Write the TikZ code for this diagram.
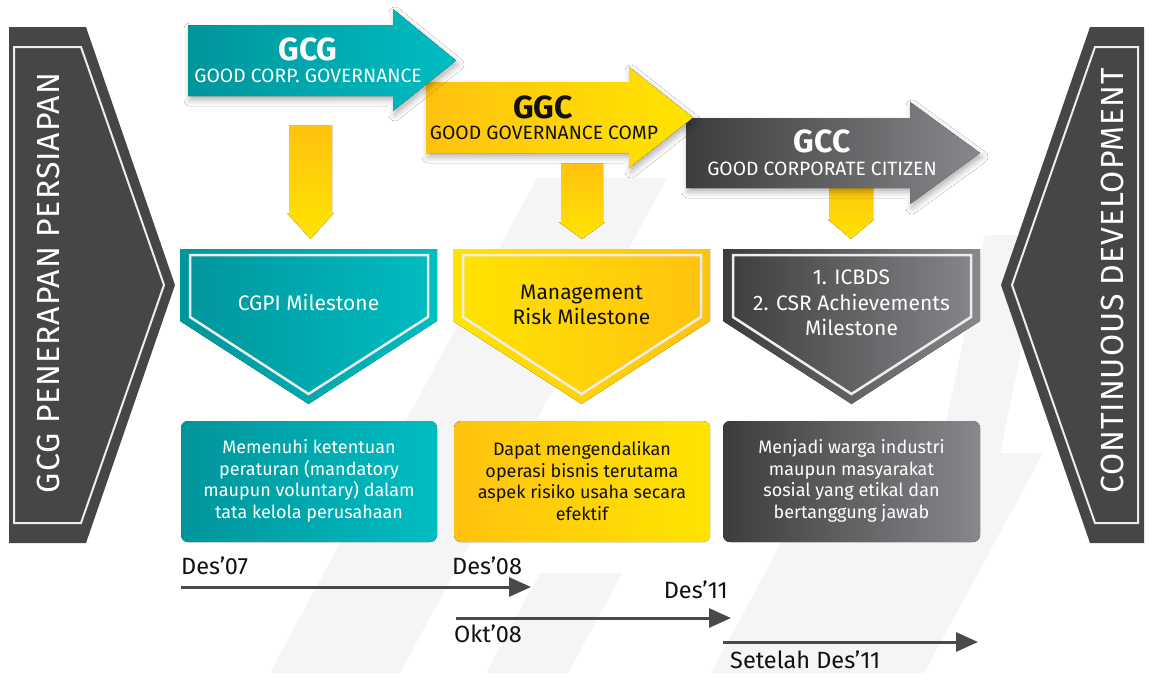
\documentclass[tikz,border=0pt]{standalone}
\usepackage{fontspec}
\setmainfont{Fira Sans}
\newfontfamily\spacedfont[LetterSpace=3]{Fira Sans}
\usetikzlibrary{arrows.meta,shadows.blur}
\definecolor{tealD}{HTML}{00959B}
\definecolor{tealL}{HTML}{00BDC2}
\definecolor{yelO}{HTML}{FFC20F}
\definecolor{yelY}{HTML}{FFE400}
\definecolor{grayD}{HTML}{3C3C3E}
\definecolor{grayL}{HTML}{88888C}
\definecolor{chev}{HTML}{464648}
\definecolor{tlc}{HTML}{4A4A4C}
\definecolor{wm}{HTML}{F5F5F5}
\definecolor{borderc}{HTML}{EDEDED}
\definecolor{ink}{HTML}{111111}
\begin{document}
\begin{tikzpicture}[x=1pt,y=-1pt,
  shadowed/.style={blur shadow={shadow xshift=2pt,shadow yshift=-4pt,shadow blur radius=6pt,shadow opacity=30}},
  title/.style={font=\fontsize{32}{34}\selectfont\bfseries, anchor=base, inner sep=0pt},
  subtitle/.style={font=\fontsize{19.3}{21}\selectfont, anchor=base, inner sep=0pt},
  mile/.style={font=\fontsize{21}{25.5}\selectfont, align=center, inner sep=0pt},
  desc/.style={font=\fontsize{18}{21.5}\selectfont, align=center, inner sep=0pt},
  datelbl/.style={font=\fontsize{23.5}{25}\selectfont, inner sep=0pt, text=ink},
  vtext/.style={font=\spacedfont\fontsize{32}{34}\selectfont, rotate=90, text=white, inner sep=0pt},
  tline/.style={line width=3pt, draw=tlc, -{Triangle[length=22pt,width=19pt]}},
  border/.style={draw=borderc, line width=2.5pt, line join=miter},
  downarrow/.style={top color=yelO, bottom color=yelY},
]
\useasboundingbox (0,0) rectangle (1152,673);
\fill[white] (0,0) rectangle (1152,673);

% watermark stripes
\fill[wm] (537,178) -- (667,178) -- (400,673) -- (270,673) -- cycle;
\fill[wm] (540,573) -- (622,573) -- (568,673) -- (486,673) -- cycle;
\fill[wm] (830,453) -- (1043,453) -- (924,673) -- (711,673) -- cycle;
\fill[wm] (985,235) -- (1045,235) -- (1000,453) -- (940,453) -- cycle;

% down arrows
\fill[downarrow] (289,125) -- (332,125) -- (332,213) -- (334,213) -- (310.5,239) -- (287,213) -- (289,213) -- cycle;
\fill[downarrow] (561,163) -- (603,163) -- (603,222) -- (605.5,222) -- (582,239) -- (558.5,222) -- (561,222) -- cycle;
\fill[downarrow] (829,180) -- (873,180) -- (873,219) -- (874.5,219) -- (851,239) -- (827.5,219) -- (829,219) -- cycle;

% top arrows
\fill[shadowed, left color=grayD, right color=grayL] (686,118) -- (910,118) -- (910,102) -- (980,153) -- (910,204) -- (910,188) -- (686,188) -- cycle;
\fill[shadowed, left color=yelO, right color=yelY] (426,82) -- (629,82) -- (629,67) -- (693,117.5) -- (629,168) -- (629,153) -- (426,153) -- cycle;
\fill[shadowed, left color=tealD, right color=tealL] (188,25) -- (393,25) -- (393,9) -- (456,60.5) -- (393,111) -- (393,96) -- (188,96) -- cycle;

\node[title, text=white] (gcg) at (308,60) {GCG};
\node[subtitle, text=white] (gcgs) at (308,82) {GOOD CORP. GOVERNANCE};
\node[title, text=ink] (ggc) at (543,118) {GGC};
\node[subtitle, text=ink] (ggcs) at (544,139) {GOOD GOVERNANCE COMP};
\node[title, text=white] (gcc) at (822,152) {GCC};
\node[subtitle, text=white] (gccs) at (822,175) {GOOD CORPORATE CITIZEN};

% pentagons
\fill[left color=tealD, right color=tealL] (180,249) -- (437,249) -- (437,321) -- (308.5,404) -- (180,321) -- cycle;
\draw[border] (190,255) -- (428,255) -- (428,317) -- (308.5,394) -- (190,317) -- cycle;
\fill[left color=yelY, right color=yelO] (453,249) -- (710,249) -- (710,321) -- (581.5,404) -- (453,321) -- cycle;
\draw[border] (463,255) -- (701,255) -- (701,317) -- (581.5,394) -- (463,317) -- cycle;
\fill[left color=grayD, right color=grayL] (723,249) -- (980,249) -- (980,321) -- (851.5,404) -- (723,321) -- cycle;
\draw[border] (733,255) -- (971,255) -- (971,317) -- (851.5,394) -- (733,317) -- cycle;

\node[mile, text=white] (m1) at (308.5,302.5) {CGPI Milestone};
\node[mile, text=ink] (m2) at (581.5,305) {Management\\Risk Milestone};
\node[mile, text=white] (m3) at (851.5,303) {1. ICBDS\\2. CSR Achievements\\Milestone};

% description boxes
\fill[left color=tealD, right color=tealL, rounded corners=7pt] (181,421) rectangle (437,542);
\fill[left color=yelO, right color=yelY, rounded corners=7pt] (454,421) rectangle (710,542);
\fill[left color=grayD, right color=grayL, rounded corners=7pt] (723,421) rectangle (980,542);

\node[desc, text=white] (d1) at (309,481) {Memenuhi ketentuan\\peraturan (mandatory\\maupun voluntary) dalam\\tata kelola perusahaan};
\node[desc, text=ink] (d2) at (582,481) {Dapat mengendalikan\\operasi bisnis terutama\\aspek risiko usaha secara\\efektif};
\node[desc, text=white] (d3) at (851.5,481) {Menjadi warga industri\\maupun masyarakat\\sosial yang etikal dan\\bertanggung jawab};

% timeline
\coordinate (a1) at (181,587);
\coordinate (b1) at (531,587);
\coordinate (a2) at (456,618);
\coordinate (b2) at (731,618);
\coordinate (a3) at (723,642);
\coordinate (b3) at (978,642);
\draw[tline] (a1) -- (b1);
\draw[tline] (a2) -- (b2);
\draw[tline] (a3) -- (b3);
\node[datelbl, anchor=base west] (l1) at (181,574) {Des’07};
\node[datelbl, anchor=base west] (l2) at (452,574) {Des’08};
\node[datelbl, anchor=base east] (l3) at (728,598) {Des’11};
\node[datelbl, anchor=base west] (l4) at (454,642) {Okt’08};
\node[datelbl, anchor=base west] (l5) at (730,668) {Setelah Des’11};

% side chevrons
\fill[chev] (9,27) -- (86,27) -- (175,285) -- (86,543) -- (9,543) -- cycle;
\draw[border, line width=2pt] (14,47) -- (81,47) -- (164,285) -- (81,523) -- (14,523) -- cycle;
\node[vtext] (lt) at (48,283) {GCG PENERAPAN PERSIAPAN};
\fill[chev] (1144,27) -- (1090,27) -- (1001,285) -- (1090,543) -- (1144,543) -- cycle;
\draw[border, line width=2pt] (1138,47) -- (1095,47) -- (1012,285) -- (1095,523) -- (1138,523) -- cycle;
\node[vtext] (rt) at (1112,281) {CONTINUOUS DEVELOPMENT};
\end{tikzpicture}
\end{document}
